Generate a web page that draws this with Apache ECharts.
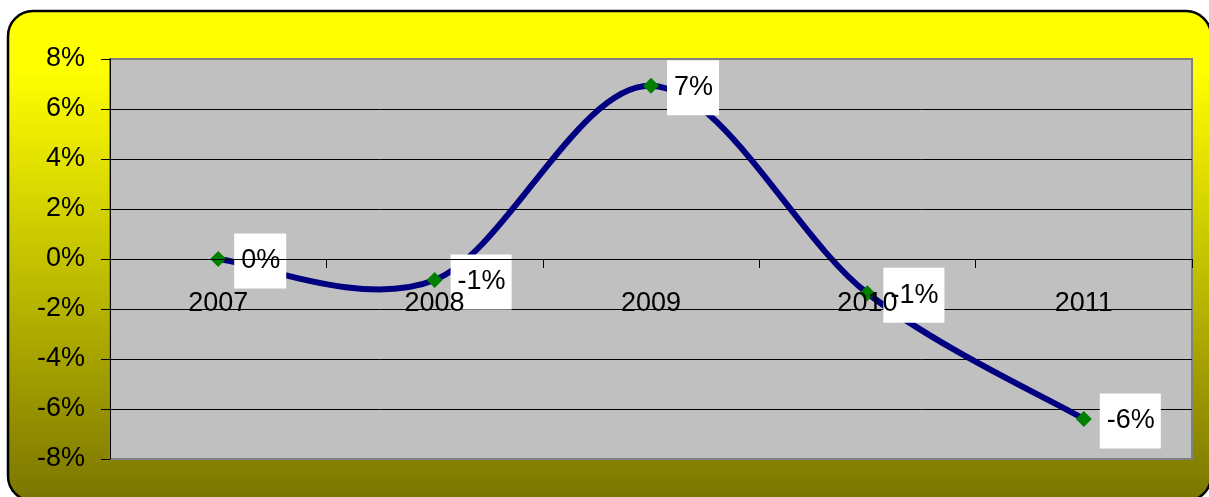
<!DOCTYPE html>
<html>
<head>
<meta charset="utf-8">
<script src="https://cdn.jsdelivr.net/npm/echarts@6/dist/echarts.min.js"></script>
<style>
html,body{margin:0;padding:0;background:#fff;}
#chart{width:1209px;height:497px;}
</style>
</head>
<body>
<div id="chart"></div>
<script>
var years = ['2007', '2008', '2009', '2010', '2011'];
var values = [0, -0.84, 6.93, -1.37, -6.4];
var yMin = -8, yMax = 8, yStep = 2;

var FONT = '"Liberation Sans", Arial, sans-serif';
var GRID_TOP = 59, GRID_BOTTOM = 38, CHART_H = 497;
var gridH = CHART_H - GRID_TOP - GRID_BOTTOM;
var zeroOffset = -((0 - yMin) / (yMax - yMin)) * gridH;

var chart = echarts.init(document.getElementById('chart'));

function pctLabel(v) {
  var r = Math.round(v);
  if (r === 0) r = 0;
  return r + '%';
}

var splitColors = [];
for (var k = yMin; k <= yMax; k += yStep) {
  splitColors.push((k === yMin || k === yMax) ? '#808080' : '#000000');
}

chart.setOption({
  animation: false,
  graphic: [{
    type: 'rect',
    z: -10,
    silent: true,
    shape: { x: 8, y: 11, width: 1203, height: 490, r: 25 },
    style: {
      fill: {
        type: 'linear', x: 0, y: 0, x2: 0, y2: 1,
        colorStops: [
          { offset: 0, color: '#FFFF00' },
          { offset: 0.12, color: '#FFFF00' },
          { offset: 1, color: '#7A7500' }
        ]
      },
      stroke: '#000000',
      lineWidth: 2.5
    }
  }],
  grid: {
    left: 110, right: 17, top: GRID_TOP, bottom: GRID_BOTTOM,
    outerBoundsMode: 'none',
    containLabel: false,
    show: true,
    backgroundColor: '#C0C0C0',
    borderColor: '#808080',
    borderWidth: 2
  },
  xAxis: {
    type: 'category',
    data: years,
    boundaryGap: true,
    position: 'bottom',
    offset: zeroOffset,
    z: 10,
    axisLine: { onZero: false, lineStyle: { color: '#000', width: 1 } },
    axisTick: { show: true, length: 9, inside: false, lineStyle: { color: '#000' } },
    axisLabel: { color: '#000', fontSize: 27, fontFamily: FONT, margin: 31 },
    splitLine: { show: false }
  },
  yAxis: {
    type: 'value',
    min: yMin, max: yMax, interval: yStep,
    axisLine: { show: true, lineStyle: { color: '#000', width: 1 } },
    axisTick: { show: true, length: 9, lineStyle: { color: '#000' } },
    axisLabel: { color: '#000', fontSize: 27, fontFamily: FONT, margin: 25, formatter: '{value}%' },
    splitLine: { show: true, lineStyle: { color: splitColors, width: 1 } }
  },
  series: [{
    type: 'custom',
    z: 2,
    silent: true,
    data: values.map(function (v, i) { return [i, v]; }),
    encode: { x: 0, y: 1 },
    renderItem: function (params, api) {
      var i = params.dataIndex;
      var n = values.length;
      if (i >= n - 1) return null;
      function pt(k) {
        k = Math.max(0, Math.min(n - 1, k));
        return api.coord([k, values[k]]);
      }
      var p0 = pt(i - 1), p1 = pt(i), p2 = pt(i + 1), p3 = pt(i + 2);
      return {
        type: 'bezierCurve',
        shape: {
          x1: p1[0], y1: p1[1],
          cpx1: p1[0] + (p2[0] - p0[0]) / 6, cpy1: p1[1] + (p2[1] - p0[1]) / 6,
          cpx2: p2[0] - (p3[0] - p1[0]) / 6, cpy2: p2[1] - (p3[1] - p1[1]) / 6,
          x2: p2[0], y2: p2[1]
        },
        style: { stroke: '#000080', lineWidth: 6, fill: null, lineCap: 'round' }
      };
    }
  }, {
    type: 'scatter',
    z: 3,
    data: values,
    symbol: 'diamond',
    symbolSize: 16,
    itemStyle: { color: '#008000', opacity: 1 },
    emphasis: { disabled: true },
    label: {
      show: true,
      position: 'right',
      distance: 8,
      offset: [0, 2],
      opacity: 1,
      formatter: function (p) { return pctLabel(p.value); },
      color: '#000000',
      fontSize: 27,
      fontFamily: FONT,
      backgroundColor: '#FFFFFF',
      lineHeight: 31,
      padding: [9, 6, 15, 7]
    }
  }]
});
</script>
</body>
</html>
